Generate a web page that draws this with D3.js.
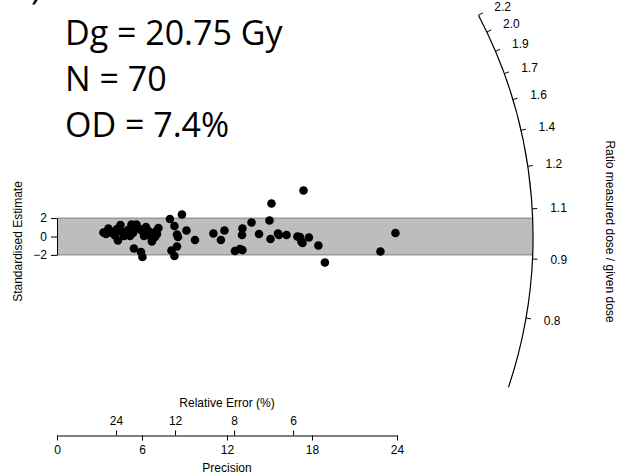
<!DOCTYPE html>
<html lang="en">
<head>
<meta charset="UTF-8">
<title>Radial plot</title>
<style>
body{ margin:0; background:#fff; }
svg{ display:block; }
.ax text, .lab{ font-family:"Liberation Sans", Arial, sans-serif; font-size:12px; fill:#000; }
.big{ font-family:"Open Sans", sans-serif; font-size:34px; fill:#000; }
</style>
</head>
<body>

<svg id="plot" width="617" height="475"></svg>

<script src="https://d3js.org/d3.v7.min.js"></script>
<script>
// precision (1/relative error) of every aliquot
var precision = [3.28, 3.63, 3.88, 4.09, 4.30, 4.48, 4.59, 4.87, 5.26, 5.61,
                 5.82, 6.00, 6.21, 6.46, 6.70, 6.92, 7.02, 7.16, 5.43, 5.93,
                 6.03, 5.01, 5.36, 3.74, 6.56, 7.97, 8.29, 8.82, 9.14, 8.47,
                 8.54, 8.47, 8.08, 8.29, 9.74, 11.04, 11.57, 11.82, 12.56, 12.91,
                 13.09, 13.06, 13.09, 13.73, 14.26, 15.00, 15.14, 15.07, 15.60, 15.67,
                 16.20, 16.97, 17.15, 17.25, 17.33, 17.40, 17.78, 18.45, 18.91, 22.83,
                 23.89, 4.23, 4.73, 5.50, 6.28, 6.77, 3.46, 5.15, 6.14, 7.06];
// standardised estimate of every aliquot
var stdEstimate = [0.43, 0.87, 0.38, 0.11, -0.43, 1.25, 0.49, 0.33, 1.30, 1.30,
                   0.82, 0.60, 0.38, 0.60, -0.54, -0.05, 0.60, 0.92, -1.30, -1.68,
                   -2.23, 0.71, 0.38, 0.60, 0.05, 1.90, 1.14, 2.39, 0.65, 0.22,
                   -0.05, -1.09, -1.52, -2.12, -0.38, 0.33, -0.38, 0.65, -1.58, -1.36,
                   -1.47, 0.16, 0.87, 1.52, 0.27, 1.74, 3.59, -0.27, 0.33, 0.16,
                   0.16, 0.00, -0.05, -0.54, -0.71, 5.00, -0.11, -0.98, -2.83, -1.63,
                   0.38, 0.82, 0.05, 0.92, 1.03, 0.38, 0.27, 0.05, 0.05, 0.27];

var precisionTicks = [0, 6, 12, 18, 24];
var relErrorTicks = [24, 12, 8, 6];
var stdTicks = [-2, 0, 2];
var ratioTicks = [0.75, 0.911, 1.072, 1.233, 1.394, 1.556, 1.717, 1.878, 2.039, 2.2];
var ratioArc = [0.586, 2.2];
var centralRatio = 0.98;
var arcPrecision = 33.6;
var infoLines = ["Dg = 20.75 Gy", "N = 70", "OD = 7.4%"];

var svg = d3.select("#plot");

var x = d3.scaleLinear().domain([0, 24]).range([57, 397]),
    y = d3.scaleLinear().domain([-2, 2]).range([254.9, 218.1]);

var x0 = x(0), y0 = y(0),
    R = x(arcPrecision) - x(0),
    pxRatio = (y(0) - y(1)) / (x(1) - x(0));

// angle (counter clockwise from the x axis) of a ratio on the arc
function angleOf(v) {
  return Math.atan(Math.log(v / centralRatio) * pxRatio);
}
function arcPoint(v, r) {
  var t = angleOf(v);
  return [x0 + r * Math.cos(t), y0 - r * Math.sin(t)];
}

// grey +-2 band
var dyTop = y0 - y(2), dyBot = y(-2) - y0;
var xrTop = x0 + Math.sqrt(R * R - dyTop * dyTop),
    xrBot = x0 + Math.sqrt(R * R - dyBot * dyBot);
svg.append("path")
  .attr("d", "M" + x(0) + "," + y(2) + "L" + xrTop + "," + y(2) +
             "L" + xrBot + "," + y(-2) + "L" + x(0) + "," + y(-2) + "Z")
  .attr("fill", "#bdbdbd");
svg.append("line").attr("x1", x(0)).attr("x2", xrTop).attr("y1", y(2)).attr("y2", y(2))
  .attr("stroke", "#808080");
svg.append("line").attr("x1", x(0)).attr("x2", xrBot).attr("y1", y(-2)).attr("y2", y(-2))
  .attr("stroke", "#808080");

// arc
var p = d3.path();
p.arc(x0, y0, R, -angleOf(ratioArc[1]), -angleOf(ratioArc[0]), false);
svg.append("path").attr("d", p.toString())
  .attr("fill", "none").attr("stroke", "#000").attr("stroke-width", 1.2);

var zt = svg.append("g").attr("class", "ax");
ratioTicks.forEach(function (v) {
  var a = arcPoint(v, R), b = arcPoint(v, R + 5), c = arcPoint(v, R + 18);
  zt.append("line").attr("x1", a[0]).attr("y1", a[1]).attr("x2", b[0]).attr("y2", b[1])
    .attr("stroke", "#000");
  zt.append("text").attr("x", c[0]).attr("y", c[1]).attr("dy", "0.35em")
    .text(d3.format(".1f")(v));
});

// points
svg.append("g").selectAll("circle")
  .data(precision)
  .join("circle")
    .attr("cx", function (d) { return x(d); })
    .attr("cy", function (d, i) { return y(stdEstimate[i]); })
    .attr("r", 4.3)
    .attr("fill", "#000");

// left axis
svg.append("g").attr("class", "ax")
  .attr("transform", "translate(" + x(0) + ",0)")
  .call(d3.axisLeft(y).tickValues(stdTicks).tickSize(6).tickSizeOuter(0).tickFormat(d3.format("d")))
  .call(function (g) { g.selectAll("text").attr("dx", "-1"); });

// precision axis
var axisY = 435.5;
svg.append("g").attr("class", "ax")
  .attr("transform", "translate(0," + axisY + ")")
  .call(d3.axisBottom(x).tickValues(precisionTicks).tickSize(5).tickSizeOuter(0).tickPadding(5));

// relative error axis
svg.append("g").attr("class", "ax")
  .attr("transform", "translate(0," + axisY + ")")
  .call(d3.axisTop(x).tickValues(relErrorTicks.map(function (d) { return 100 / d; }))
    .tickSize(5).tickPadding(6)
    .tickFormat(function (d) { return Math.round(100 / d); }))
  .call(function (g) { g.select(".domain").remove(); });

svg.selectAll(".ax path, .ax line").attr("stroke", "#000");

svg.append("text").attr("class", "lab").attr("x", x(12)).attr("y", 406.5)
  .attr("text-anchor", "middle").text("Relative Error (%)");
svg.append("text").attr("class", "lab").attr("x", x(12)).attr("y", 471.5)
  .attr("text-anchor", "middle").text("Precision");
svg.append("text").attr("class", "lab")
  .attr("transform", "translate(21.5,241.5) rotate(-90)")
  .attr("text-anchor", "middle").text("Standardised Estimate");
svg.append("text").attr("class", "lab")
  .attr("transform", "translate(606,231.5) rotate(90)")
  .attr("text-anchor", "middle").text("Ratio measured dose / given dose");

// header text (first line is cut off at the top of the figure)
svg.append("text").attr("class", "big").attr("x", 41).attr("y", -1)
  .attr("text-anchor", "end").text("b)");
svg.append("text").attr("class", "big").attr("x", 65).attr("y", -1)
  .text("SAR 1025");
svg.selectAll(".info").data(infoLines).join("text")
  .attr("class", "big")
  .attr("x", 65)
  .attr("y", function (d, i) { return 45 + i * 46; })
  .text(function (d) { return d; });
</script>
</body>
</html>
